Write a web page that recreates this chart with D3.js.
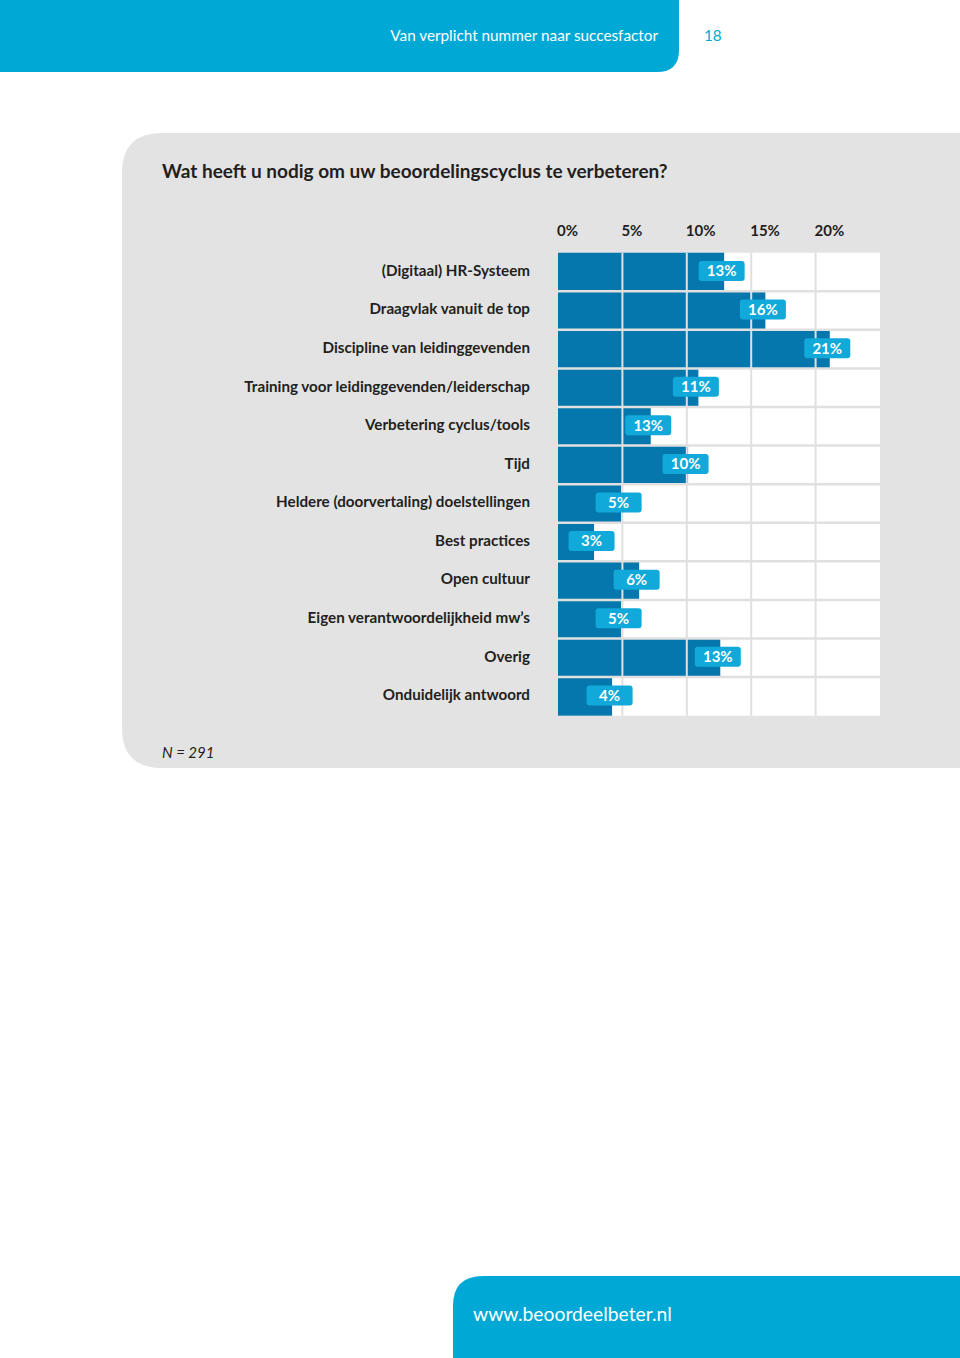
<!DOCTYPE html>
<html>
<head>
<meta charset="utf-8">
<script src="https://cdn.jsdelivr.net/npm/d3@7/dist/d3.min.js"></script>
<style>
  html, body { margin: 0; padding: 0; background: #ffffff; }
  svg { display: block; }
  text { font-family: Lato, "Open Sans", sans-serif; }
</style>
</head>
<body>
<svg id="chart" width="960" height="1358"></svg>
<script>
// ---- data ----
const categories = [
  "(Digitaal) HR-Systeem",
  "Draagvlak vanuit de top",
  "Discipline van leidinggevenden",
  "Training voor leidinggevenden/leiderschap",
  "Verbetering cyclus/tools",
  "Tijd",
  "Heldere (doorvertaling) doelstellingen",
  "Best practices",
  "Open cultuur",
  "Eigen verantwoordelijkheid mw\u2019s",
  "Overig",
  "Onduidelijk antwoord"
];
// bar lengths as drawn in the picture (percent)
const barValues = [12.9, 16.1, 21.1, 10.9, 7.2, 10.1, 4.9, 2.8, 6.3, 4.9, 12.6, 4.2];
// value labels as printed on the picture
const valueLabels = ["13%", "16%", "21%", "11%", "13%", "10%", "5%", "3%", "6%", "5%", "13%", "4%"];
const tickValues = [0, 5, 10, 15, 20];
const tickLabels = ["0%", "5%", "10%", "15%", "20%"];

const title = "Wat heeft u nodig om uw beoordelingscyclus te verbeteren?";
const headerText = "Van verplicht nummer naar succesfactor";
const pageNumber = "18";
const footnote = "N = 291";
const website = "www.beoordeelbeter.nl";

// ---- drawing ----
const svg = d3.select("#chart");
const cyan = "#00a9d5";
const barColor = "#0677ad";
const labelBox = "#10a9d9";
const panelGrey = "#e3e3e3";
const gridColor = "#e0e0e0";
const textDark = "#231f20";

// header band with rounded bottom-right corner
function roundedBR(x0, y0, x1, y1, r) {
  return `M${x0},${y0} H${x1} V${y1 - r} Q${x1},${y1} ${x1 - r},${y1} H${x0} Z`;
}
svg.append("path").attr("d", roundedBR(0, 0, 679, 72, 22)).attr("fill", cyan);
svg.append("text").attr("x", 658).attr("y", 41).attr("text-anchor", "end")
  .attr("font-size", 15.3).attr("fill", "#ffffff").text(headerText);
svg.append("text").attr("x", 704).attr("y", 41)
  .attr("font-size", 15.3).attr("fill", cyan).text(pageNumber);

// grey panel with rounded left corners
const px0 = 122, py0 = 133, px1 = 960, py1 = 768, pr = 40;
svg.append("path")
  .attr("d", `M${px0 + pr},${py0} H${px1} V${py1} H${px0 + pr} Q${px0},${py1} ${px0},${py1 - pr} V${py0 + pr} Q${px0},${py0} ${px0 + pr},${py0} Z`)
  .attr("fill", panelGrey);

svg.append("text").attr("x", 162).attr("y", 178)
  .attr("font-size", 19).attr("font-weight", 700).attr("fill", textDark).text(title);

// scales
const x = d3.scaleLinear().domain([0, 25]).range([558, 880]);
const y = d3.scaleBand().domain(categories).range([252.7, 715.7]).padding(0);

// plot background
svg.append("rect").attr("x", x(0)).attr("y", y.range()[0])
  .attr("width", x(25) - x(0)).attr("height", y.range()[1] - y.range()[0])
  .attr("fill", "#ffffff");

// bars
svg.append("g").selectAll("rect").data(categories).join("rect")
  .attr("x", x(0))
  .attr("y", d => y(d))
  .attr("width", (d, i) => x(barValues[i]) - x(0))
  .attr("height", y.bandwidth())
  .attr("fill", barColor);

// vertical gridlines
svg.append("g").selectAll("line").data(tickValues.filter(v => v > 0)).join("line")
  .attr("x1", d => x(d)).attr("x2", d => x(d))
  .attr("y1", y.range()[0]).attr("y2", y.range()[1])
  .attr("stroke", gridColor).attr("stroke-width", 2);

// horizontal separators
svg.append("g").selectAll("line").data(categories.slice(1)).join("line")
  .attr("x1", x(0)).attr("x2", x(25))
  .attr("y1", d => y(d)).attr("y2", d => y(d))
  .attr("stroke", gridColor).attr("stroke-width", 2.5);

// top axis labels
const axis = d3.axisTop(x).tickValues(tickValues)
  .tickFormat((d, i) => tickLabels[i]).tickSize(0).tickPadding(0);
const axisG = svg.append("g").attr("transform", "translate(0,236)").call(axis);
axisG.select(".domain").remove();
axisG.selectAll("text")
  .attr("text-anchor", "start")
  .attr("dx", -1.5)
  .attr("font-family", "Lato, 'Open Sans', sans-serif")
  .attr("font-size", 15).attr("font-weight", 700).attr("fill", textDark);

// category labels
svg.append("g").selectAll("text").data(categories).join("text")
  .attr("x", 530)
  .attr("y", d => y(d) + y.bandwidth() / 2 - 1.5)
  .attr("dy", "0.35em")
  .attr("text-anchor", "end")
  .attr("font-size", 15.2).attr("font-weight", 700).attr("fill", textDark)
  .text(d => d);

// value label boxes
const lab = svg.append("g").selectAll("g").data(categories).join("g")
  .attr("transform", (d, i) => `translate(${x(barValues[i]) - 2.5},${y(d) + y.bandwidth() / 2 - 1})`);
lab.append("rect").attr("x", -23).attr("y", -10).attr("width", 46).attr("height", 20)
  .attr("rx", 3).attr("fill", labelBox);
lab.append("text").attr("text-anchor", "middle").attr("dy", "0.36em")
  .attr("font-size", 15).attr("font-weight", 700).attr("fill", "#ffffff")
  .text((d, i) => valueLabels[i]);

// footnote
svg.append("text").attr("x", 162).attr("y", 758)
  .attr("font-size", 15).attr("font-style", "italic").attr("fill", textDark).text(footnote);

// bottom band with rounded top-left corner
svg.append("path")
  .attr("d", `M453,1358 V1306 Q453,1276 483,1276 H960 V1358 Z`)
  .attr("fill", cyan);
svg.append("text").attr("x", 473).attr("y", 1321)
  .attr("font-size", 19.3).attr("fill", "#ffffff").text(website);
</script>
</body>
</html>
